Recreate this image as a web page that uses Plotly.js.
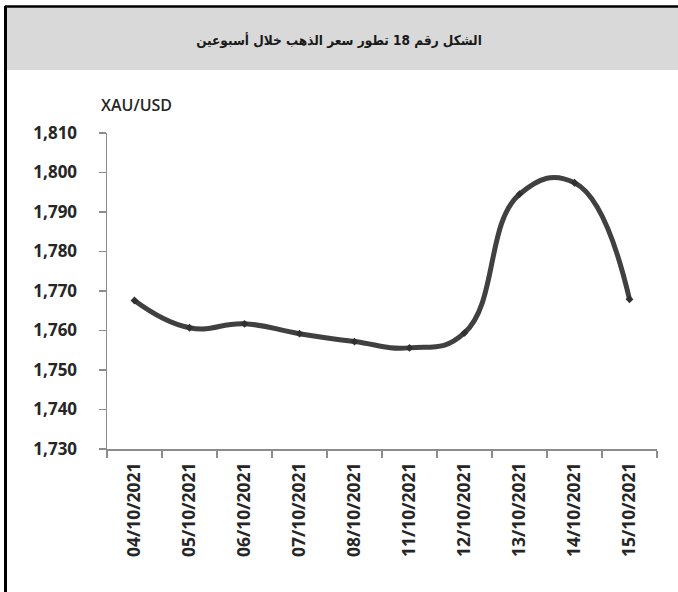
<!DOCTYPE html>
<html>
<head>
<meta charset="utf-8">
<script src="https://cdn.plot.ly/plotly-3.0.1.min.js"></script>
<style>
html,body{margin:0;padding:0;background:#fff;}
#chart{width:678px;height:592px;}
</style>
</head>
<body>
<div id="chart"></div>
<script>
const titleText = "الشكل رقم 18 تطور سعر الذهب خلال أسبوعين";
const yAxisLabel = "XAU/USD";
const dates = ["04/10/2021","05/10/2021","06/10/2021","07/10/2021","08/10/2021",
               "11/10/2021","12/10/2021","13/10/2021","14/10/2021","15/10/2021"];
const prices = [1767.6, 1760.7, 1761.7, 1759.2, 1757.2, 1755.6, 1759.4, 1794.5, 1797.4, 1767.9];
const yTickVals = [1730, 1740, 1750, 1760, 1770, 1780, 1790, 1800, 1810];
const yTickText = ["1,730","1,740","1,750","1,760","1,770","1,780","1,790","1,800","1,810"];

const W = 678, H = 592;
const M = {l:107, r:21, t:133, b:143};
const pw = W - M.l - M.r, ph = H - M.t - M.b;
const px = x => (x - M.l) / pw;            // pixel -> paper x
const py = y => (H - M.b - y) / ph;        // pixel -> paper y

const trace = {
  x: dates,
  y: prices,
  type: "scatter",
  mode: "lines+markers",
  line: {color: "#404040", width: 5, shape: "spline", smoothing: 1.3},
  marker: {symbol: "diamond", size: 6, color: "#303030"},
  hoverinfo: "skip"
};

const layout = {
  width: W, height: H,
  margin: M,
  paper_bgcolor: "#ffffff",
  plot_bgcolor: "#ffffff",
  showlegend: false,
  title: {
    text: "<b>" + titleText + "</b>",
    font: {family: "DejaVu Sans Condensed, DejaVu Sans, sans-serif", size: 13.5, color: "#1a1a1a"},
    xref: "container", yref: "container",
    x: 0.5, y: 1 - 40 / H, xanchor: "center", yanchor: "middle"
  },
  xaxis: {
    type: "category",
    range: [-0.5, dates.length - 0.5],
    showline: true, linecolor: "#8c8c8c", linewidth: 1.5,
    ticks: "outside", tickson: "boundaries", ticklen: 7, tickcolor: "#8c8c8c", tickwidth: 1.5,
    tickangle: -90,
    tickfont: {family: "Open Sans, sans-serif", size: 17.5, color: "#262626", weight: 700},
    ticklabelstandoff: 5,
    showgrid: false, zeroline: false, fixedrange: true
  },
  yaxis: {
    range: [1730, 1810],
    tickvals: yTickVals, ticktext: yTickText,
    showline: true, linecolor: "#8c8c8c", linewidth: 1.5,
    ticks: "outside", ticklen: 7, tickcolor: "#8c8c8c", tickwidth: 1.5,
    tickfont: {family: "Open Sans, sans-serif", size: 17, color: "#262626", weight: 700},
    ticklabelstandoff: 18,
    showgrid: false, zeroline: false, fixedrange: true
  },
  shapes: [
    {type: "rect", xref: "paper", yref: "paper", layer: "below",
     x0: px(6), x1: px(690), y0: py(70), y1: py(7),
     fillcolor: "#d9d9d9", line: {width: 0}},
    {type: "line", xref: "paper", yref: "paper",
     x0: px(5), x1: px(700), y0: py(6.5), y1: py(6.5),
     line: {color: "#000000", width: 2.5}},
    {type: "line", xref: "paper", yref: "paper",
     x0: px(5.5), x1: px(5.5), y0: py(6), y1: py(600),
     line: {color: "#000000", width: 3}}
  ],
  annotations: [
    {text: yAxisLabel, xref: "paper", yref: "paper", x: px(99), y: py(105),
     xanchor: "left", yanchor: "middle", showarrow: false,
     font: {family: "Open Sans, sans-serif", size: 16, color: "#262626", weight: 600}}
  ]
};

Plotly.newPlot("chart", [trace], layout, {displayModeBar: false, staticPlot: true});
</script>
</body>
</html>
